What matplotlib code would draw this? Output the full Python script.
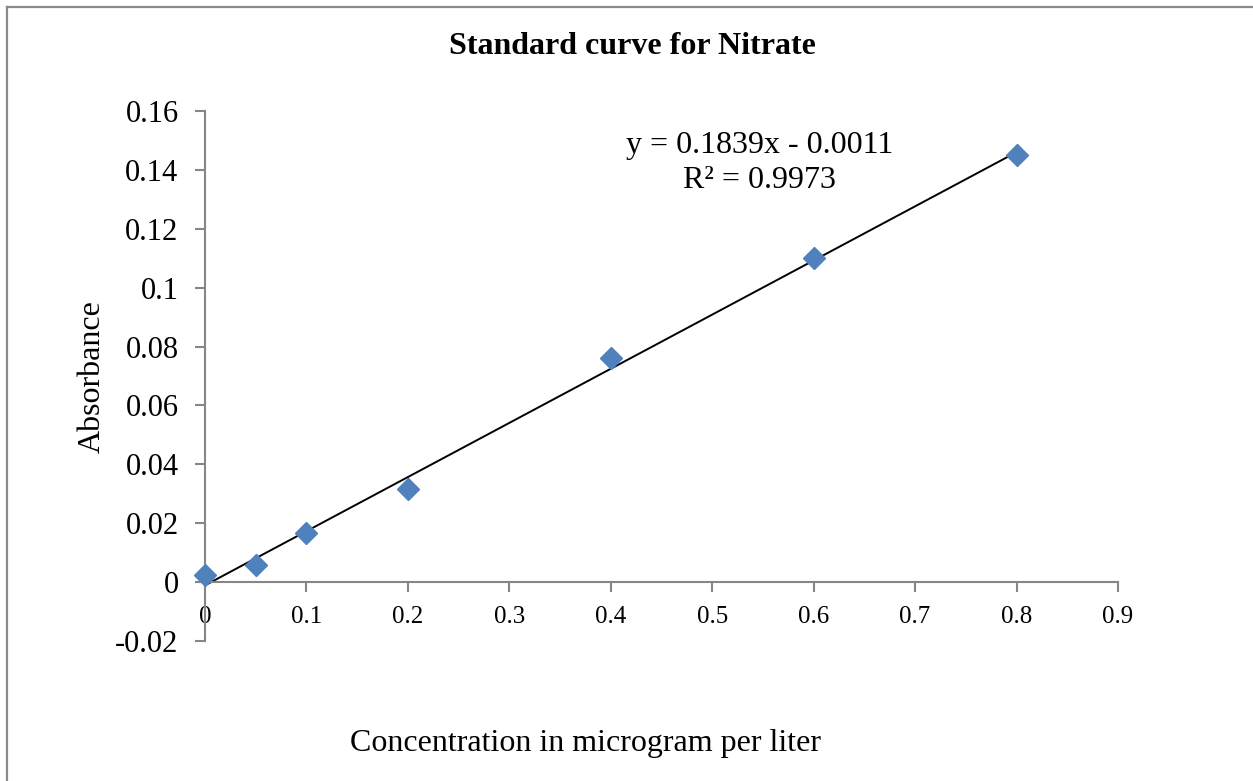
import matplotlib.pyplot as plt
from matplotlib.lines import Line2D
import numpy as np

# data
concentration = [0, 0.05, 0.1, 0.2, 0.4, 0.6, 0.8]
absorbance = [0.0025, 0.0059, 0.0166, 0.0316, 0.0761, 0.110, 0.145]
slope = 0.1839
intercept = -0.0011
r_squared = 0.9973
x_ticks = [0, 0.1, 0.2, 0.3, 0.4, 0.5, 0.6, 0.7, 0.8, 0.9]
y_ticks = [-0.02, 0, 0.02, 0.04, 0.06, 0.08, 0.1, 0.12, 0.14, 0.16]

plt.rcParams['font.family'] = ['Liberation Serif', 'DejaVu Serif']
axis_grey = '#868686'

fig = plt.figure(figsize=(12.53, 7.81), dpi=100)
ax = fig.add_axes([205 / 1253, 1 - 641 / 781, (1118 - 205) / 1253, (641 - 111) / 781])

# outer chart border (only left and top visible)
fig.add_artist(Line2D([7 / 1253, 7 / 1253], [0, 1 - 7 / 781], transform=fig.transFigure,
                      color='#8a8a8a', lw=1.6))
fig.add_artist(Line2D([7 / 1253, 1], [1 - 7 / 781, 1 - 7 / 781], transform=fig.transFigure,
                      color='#8a8a8a', lw=1.6))

# trendline
xs = np.array([min(concentration), max(concentration)])
ax.plot(xs, slope * xs + intercept, color='black', lw=1.4, zorder=2)
ax.plot(concentration, absorbance, linestyle='none', marker='D', ms=11.5,
        color='#4F81BD', mec='#4F81BD', zorder=3, clip_on=False)

ax.set_xlim(0, 0.9)
ax.set_ylim(-0.02, 0.16)

for side in ['top', 'right']:
    ax.spines[side].set_visible(False)
ax.spines['bottom'].set_position(('data', 0))
for side in ['left', 'bottom']:
    ax.spines[side].set_color(axis_grey)
    ax.spines[side].set_linewidth(1.5)

ax.set_xticks(x_ticks)
ax.set_yticks(y_ticks)
ax.set_xticklabels(['%g' % v for v in x_ticks])
ax.set_yticklabels(['%g' % v for v in y_ticks])
ax.tick_params(axis='both', color=axis_grey, width=1.5, length=7, labelcolor='black')
ax.tick_params(axis='x', pad=10, labelsize=18)
ax.tick_params(axis='y', pad=12, labelsize=22)

fig.text(632 / 1253, 1 - 47 / 781, 'Standard curve for Nitrate', ha='center', va='center',
         fontsize=23, fontweight='bold')
fig.text(92 / 1253, 1 - 377 / 781, 'Absorbance', rotation=90, ha='center', va='center',
         fontsize=23)
fig.text(585 / 1253, 1 - 743 / 781, 'Concentration in microgram per liter', ha='center',
         va='center', fontsize=23)
ax.text(0.547, 0.1423, 'y = %.4fx - %.4f\nR\u00b2 = %.4f' % (slope, -intercept, r_squared),
        ha='center', va='center', fontsize=23, linespacing=1.25)

fig.savefig('out.png', dpi=100)
